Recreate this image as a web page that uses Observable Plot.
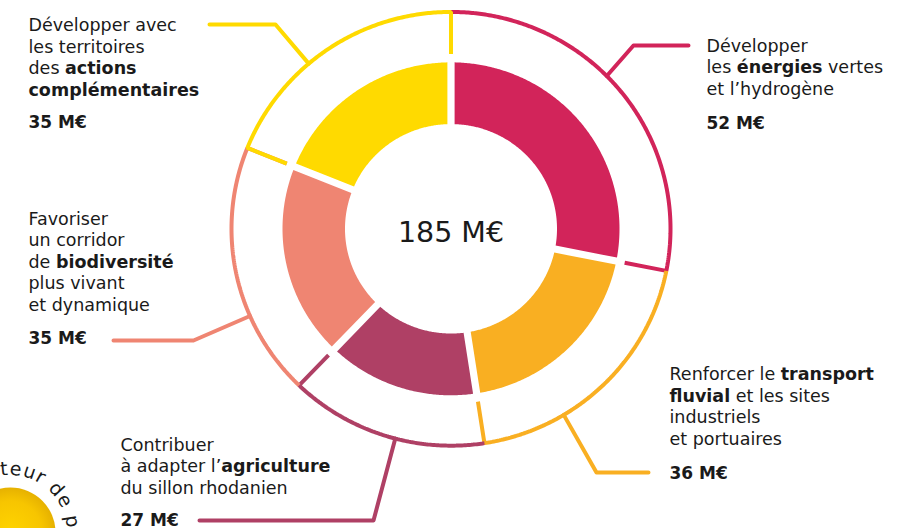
<!DOCTYPE html>
<html>
<head>
<meta charset="utf-8">
<script src="https://cdn.jsdelivr.net/npm/d3@7"></script>
<script src="https://cdn.jsdelivr.net/npm/@observablehq/plot@0.6"></script>
<style>
  html, body { margin: 0; padding: 0; background: #ffffff; }
  #chart svg { display: block; }
</style>
</head>
<body>
<div id="chart"></div>
<script>
// ---------- DATA ----------
const categories = ["énergies", "transport", "agriculture", "biodiversité", "actions"];
const values = [52, 36, 27, 35, 35];
const labelTexts = [
  "Développer\nles **énergies** vertes\net l’hydrogène",
  "Renforcer le **transport**\n**fluvial** et les sites\nindustriels\net portuaires",
  "Contribuer\nà adapter l’**agriculture**\ndu sillon rhodanien",
  "Favoriser\nun corridor\nde **biodiversité**\nplus vivant\net dynamique",
  "Développer avec\nles territoires\ndes **actions**\n**complémentaires**"
];
const valueLabels = values.map(v => `${v} M€`);
const totalLabel = `${d3.sum(values)} M€`;
const decoText = "Porteur de projets";

// ---------- STYLE / LAYOUT ----------
const colors = ["#D2245A", "#F9AF22", "#AF4065", "#EF8572", "#FFDA00"];
const C = {x: 450.5, y: 228.3, sy: 0.988};
const R = {inner: 106, outer: 168.5, ring: 219.5, tick: 177, gap: 3.6};
const layout = [
  {x: 706, y: 94,  vy: 128, angle: 45.2,  elbow: [633, 45],  end: [688, 45]},
  {x: 669, y: 444, vy: 478, angle: 149.1, elbow: [596, 472], end: [648, 472]},
  {x: 120, y: 493, vy: 525, angle: 194.7, elbow: [373, 520], end: [199, 520]},
  {x: 28,  y: 310, vy: 343, angle: 246.3, elbow: [193, 340], end: [113, 340]},
  {x: 28,  y: 95,  vy: 127, angle: 319.6, elbow: [275, 24],  end: [209, 24]}
];
const deco = {cx: 10, cy: 532, r: 45, tr: 57, start: -43, fill: "#F5C400"};
const FONT = "'DejaVu Sans', sans-serif";
const INK = "#1a1a1a";

// ---------- GEOMETRY ----------
const total = d3.sum(values);
const cum = d3.cumsum(values);
const angles = values.map((v, i) => {
  const a1 = cum[i] / total * 2 * Math.PI;
  const a0 = (cum[i] - v) / total * 2 * Math.PI;
  return {a0, a1};
});
const pt = (a, r) => [C.x + r * Math.sin(a), C.y - r * Math.cos(a) * C.sy];
const arcPts = (a0, a1, r) => {
  const n = Math.max(2, Math.ceil(Math.abs(a1 - a0) / (Math.PI / 360)));
  return d3.range(n + 1).map(k => pt(a0 + (a1 - a0) * k / n, r));
};

// inner donut slices
const slices = [];
angles.forEach(({a0, a1}, i) => {
  const go = Math.asin(R.gap / R.outer), gi = Math.asin(R.gap / R.inner);
  const pts = [...arcPts(a0 + go, a1 - go, R.outer), ...arcPts(a1 - gi, a0 + gi, R.inner)];
  pts.forEach(([x, y]) => slices.push({category: categories[i], x, y}));
});

// outer ring arcs with radial ticks
const ring = [];
const order = angles.length;
angles.forEach(({a0, a1}, i) => {
  let pts = [];
  if (i === order - 1) pts.push(pt(a0, R.tick));
  pts = pts.concat(arcPts(a0, a1, R.ring));
  pts.push(pt(a1, R.tick));
  pts.forEach(([x, y]) => ring.push({category: categories[i], x, y}));
});

// leader lines
const leaders = [];
layout.forEach((L, i) => {
  const p0 = pt(L.angle * Math.PI / 180, R.ring);
  [p0, L.elbow, L.end].forEach(([x, y]) => leaders.push({category: categories[i], x, y}));
});

const labelData = categories.map((c, i) => ({category: c, x: layout[i].x, y: layout[i].y, text: labelTexts[i]}));
const valueData = categories.map((c, i) => ({category: c, x: layout[i].x, y: layout[i].vy, text: valueLabels[i]}));

// ---------- PLOT ----------
const chart = Plot.plot({
  width: 914,
  height: 528,
  margin: 0,
  style: {fontFamily: FONT, background: "#ffffff"},
  x: {domain: [0, 914], range: [0, 914], axis: null},
  y: {domain: [0, 528], range: [0, 528], axis: null},
  color: {domain: categories, range: colors},
  marks: [
    Plot.dot([{x: deco.cx, y: deco.cy}], {x: "x", y: "y", r: deco.r, fill: deco.fill, stroke: "none", className: "deco-disc"}),
    Plot.line(slices, {x: "x", y: "y", z: "category", fill: "category", stroke: "none", curve: "linear-closed"}),
    Plot.line(ring, {x: "x", y: "y", z: "category", stroke: "category", strokeWidth: 4, strokeLinejoin: "miter", strokeLinecap: "butt"}),
    Plot.line(leaders, {x: "x", y: "y", z: "category", stroke: "category", strokeWidth: 4, strokeLinejoin: "round", strokeLinecap: "round"}),
    Plot.text(labelData, {x: "x", y: "y", text: "text", textAnchor: "start", lineAnchor: "bottom", lineHeight: 1.22, fontSize: 17.5, fill: INK, fontFamily: FONT}),
    Plot.text(valueData, {x: "x", y: "y", text: "text", textAnchor: "start", lineAnchor: "bottom", fontSize: 17, fontWeight: "bold", fill: INK, fontFamily: FONT}),
    Plot.text([{x: C.x, y: 241, text: totalLabel}], {x: "x", y: "y", text: "text", textAnchor: "middle", lineAnchor: "bottom", fontSize: 28.5, fill: INK, fontFamily: FONT})
  ]
});

// bold markup (**word**) -> tspans
const NS = "http://www.w3.org/2000/svg";
chart.querySelectorAll("text, tspan").forEach(el => {
  if (el.children.length === 0 && el.textContent.includes("**")) {
    const parts = el.textContent.split("**");
    el.textContent = "";
    parts.forEach((p, k) => {
      if (!p) return;
      const t = document.createElementNS(NS, "tspan");
      if (k % 2) t.setAttribute("font-weight", "bold");
      t.textContent = p;
      el.appendChild(t);
    });
  }
});

// decorative disc gradient + curved text
const defs = document.createElementNS(NS, "defs");
const grad = document.createElementNS(NS, "radialGradient");
grad.setAttribute("id", "decoGrad");
[["0%", "#FFD400"], ["70%", "#F7C500"], ["100%", "#E6B100"]].forEach(([o, c]) => {
  const s = document.createElementNS(NS, "stop");
  s.setAttribute("offset", o); s.setAttribute("stop-color", c);
  grad.appendChild(s);
});
defs.appendChild(grad);
const path = document.createElementNS(NS, "path");
path.setAttribute("id", "decoPath");
path.setAttribute("d", `M${deco.cx},${deco.cy + deco.tr} A${deco.tr},${deco.tr} 0 1 1 ${deco.cx},${deco.cy - deco.tr} A${deco.tr},${deco.tr} 0 1 1 ${deco.cx},${deco.cy + deco.tr}`);
defs.appendChild(path);
chart.insertBefore(defs, chart.firstChild);
chart.querySelectorAll(".deco-disc circle").forEach(c => c.setAttribute("fill", "url(#decoGrad)"));

const startAng = ((deco.start + 360 - 180) % 360);
const circ = 2 * Math.PI * deco.tr;
const dt = document.createElementNS(NS, "text");
dt.setAttribute("font-size", "19");
dt.setAttribute("letter-spacing", "1");
dt.setAttribute("font-family", FONT);
dt.setAttribute("fill", INK);
dt.setAttribute("text-anchor", "start");
const tp = document.createElementNS(NS, "textPath");
tp.setAttribute("href", "#decoPath");
tp.setAttribute("startOffset", (startAng / 360 * circ).toFixed(1));
tp.textContent = decoText;
dt.appendChild(tp);
chart.appendChild(dt);

document.getElementById("chart").appendChild(chart);
</script>
</body>
</html>
